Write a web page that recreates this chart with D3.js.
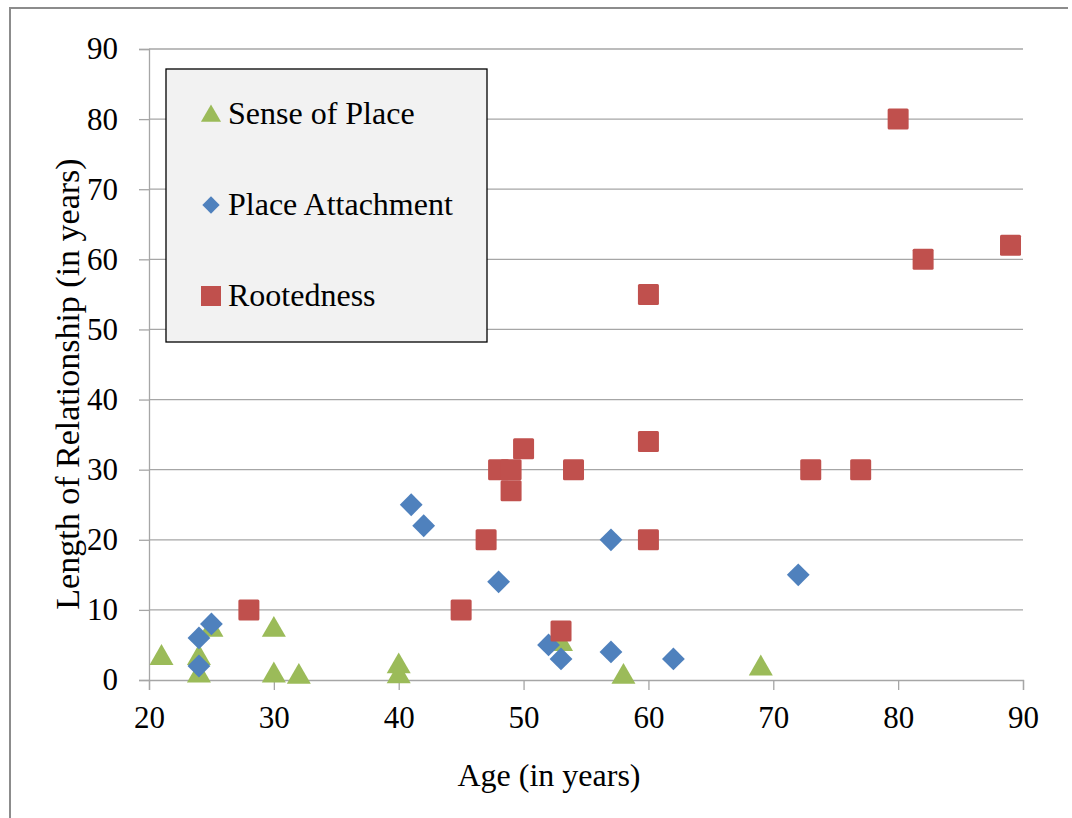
<!DOCTYPE html>
<html>
<head>
<meta charset="utf-8">
<script src="https://cdn.jsdelivr.net/npm/d3@7"></script>
<style>
  html, body { margin: 0; padding: 0; background: #fff; }
  svg { display: block; }
</style>
</head>
<body>
<div id="chart"></div>
<script>
// Age (x) and length of relationship (y) for each group
var senseAge = [21, 24, 24, 25, 30, 30, 32, 40, 40, 53, 58, 69];
var senseLen = [3, 3, 0.5, 7, 7, 0.5, 0.3, 1.8, 0.4, 5, 0.3, 1.5];

var attachAge = [24, 24, 25, 41, 42, 48, 52, 53, 57, 57, 62, 72];
var attachLen = [6, 2, 8, 25, 22, 14, 5, 3, 20, 4, 3, 15];

var rootAge = [28, 45, 47, 48, 49, 49, 50, 54, 53, 60, 60, 60, 73, 77, 80, 82, 89];
var rootLen = [10, 10, 20, 30, 30, 27, 33, 30, 7, 55, 34, 20, 30, 30, 80, 60, 62];

var xTicks = [20, 30, 40, 50, 60, 70, 80, 90];
var yTicks = [0, 10, 20, 30, 40, 50, 60, 70, 80, 90];

var legendNames = ['Sense of Place', 'Place Attachment', 'Rootedness'];

(function() {
  'use strict';

  var width = 1072, height = 818;
  var serif = "'Liberation Serif'";
  var colors = { sense: '#9bbb59', attach: '#4f81bd', root: '#c0504d' };

  var svg = d3.select('#chart').append('svg')
    .attr('width', width)
    .attr('height', height);

  // outer frame (only left and top edges are visible in the picture)
  svg.append('path')
    .attr('d', 'M10,818 V8 H1068')
    .attr('fill', 'none')
    .attr('stroke', '#8c8c8c')
    .attr('stroke-width', 2);

  var x = d3.scaleLinear().domain([20, 90]).range([149, 1023]);
  var y = d3.scaleLinear().domain([0, 90]).range([680, 49]);

  // gridlines
  svg.append('g').selectAll('line')
    .data(yTicks.filter(function(d) { return d > 0; }))
    .enter().append('line')
    .attr('x1', x(20)).attr('x2', x(90))
    .attr('y1', function(d) { return y(d); })
    .attr('y2', function(d) { return y(d); })
    .attr('stroke', '#a6a6a6')
    .attr('stroke-width', 1.3);

  // y axis
  var yAxis = svg.append('g')
    .attr('transform', 'translate(' + x(20) + ',0)')
    .call(d3.axisLeft(y).tickValues(yTicks).tickSize(10).tickPadding(21));
  yAxis.attr('font-family', null).attr('font-size', null);
  yAxis.select('.domain').attr('stroke', '#a6a6a6').attr('stroke-width', 1.3);
  yAxis.selectAll('.tick line').attr('stroke', '#a6a6a6').attr('stroke-width', 1.3);
  yAxis.selectAll('text')
    .style('font-size', '31px')
    .style('font-family', serif)
    .attr('fill', '#000');

  // x axis
  var xAxis = svg.append('g')
    .attr('transform', 'translate(0,' + y(0) + ')')
    .call(d3.axisBottom(x).tickValues(xTicks).tickSize(10).tickPadding(16));
  xAxis.attr('font-family', null).attr('font-size', null);
  xAxis.select('.domain').attr('stroke', '#a6a6a6').attr('stroke-width', 1.3);
  xAxis.selectAll('.tick line').attr('stroke', '#a6a6a6').attr('stroke-width', 1.3);
  xAxis.selectAll('text')
    .style('font-size', '31px')
    .style('font-family', serif)
    .attr('fill', '#000');

  // axis titles
  svg.append('text')
    .attr('x', 549).attr('y', 786)
    .attr('text-anchor', 'middle')
    .style('font-size', '32px')
    .style('font-family', serif)
    .text('Age (in years)');

  svg.append('text')
    .attr('transform', 'translate(79,384) rotate(-90)')
    .attr('text-anchor', 'middle')
    .style('font-size', '34px')
    .style('font-family', serif)
    .text('Length of Relationship (in years)');

  // markers
  var triangle = d3.symbol().type(d3.symbolTriangle).size(250);
  var diamond = d3.symbol().type(d3.symbolSquare).size(260);

  function pairs(xs, ys) {
    return xs.map(function(v, i) { return [v, ys[i]]; });
  }

  svg.append('g').selectAll('path')
    .data(pairs(senseAge, senseLen))
    .enter().append('path')
    .attr('d', triangle)
    .attr('transform', function(d) { return 'translate(' + x(d[0]) + ',' + (y(d[1]) - 1) + ')'; })
    .attr('fill', colors.sense);

  svg.append('g').selectAll('path')
    .data(pairs(attachAge, attachLen))
    .enter().append('path')
    .attr('d', diamond)
    .attr('transform', function(d) { return 'translate(' + x(d[0]) + ',' + y(d[1]) + ') rotate(45)'; })
    .attr('fill', colors.attach);

  svg.append('g').selectAll('rect')
    .data(pairs(rootAge, rootLen))
    .enter().append('rect')
    .attr('x', function(d) { return x(d[0]) - 10.5; })
    .attr('y', function(d) { return y(d[1]) - 10.5; })
    .attr('width', 21).attr('height', 21)
    .attr('rx', 1.5)
    .attr('fill', colors.root);

  // legend
  var legend = svg.append('g');
  legend.append('rect')
    .attr('x', 166).attr('y', 69)
    .attr('width', 321).attr('height', 273)
    .attr('fill', '#f2f2f2')
    .attr('stroke', '#000')
    .attr('stroke-width', 1.3);

  var legendY = [114, 205, 296];
  var item = legend.selectAll('.item')
    .data(legendNames)
    .enter().append('g')
    .attr('class', 'item')
    .attr('transform', function(d, i) { return 'translate(211,' + legendY[i] + ')'; });

  item.each(function(d, i) {
    var g = d3.select(this);
    if (i === 0) {
      g.append('path').attr('d', d3.symbol().type(d3.symbolTriangle).size(175)).attr('transform', 'translate(0,2)').attr('fill', colors.sense);
    } else if (i === 1) {
      g.append('path').attr('d', d3.symbol().type(d3.symbolSquare).size(150)).attr('transform', 'rotate(45)').attr('fill', colors.attach);
    } else {
      g.append('rect').attr('x', -10).attr('y', -10).attr('width', 20).attr('height', 20).attr('fill', colors.root);
    }
  });

  item.append('text')
    .attr('x', 17).attr('y', 10)
    .style('font-size', '32px')
    .style('font-family', serif)
    .attr('fill', '#000')
    .text(function(d) { return d; });
})();
</script>
</body>
</html>
